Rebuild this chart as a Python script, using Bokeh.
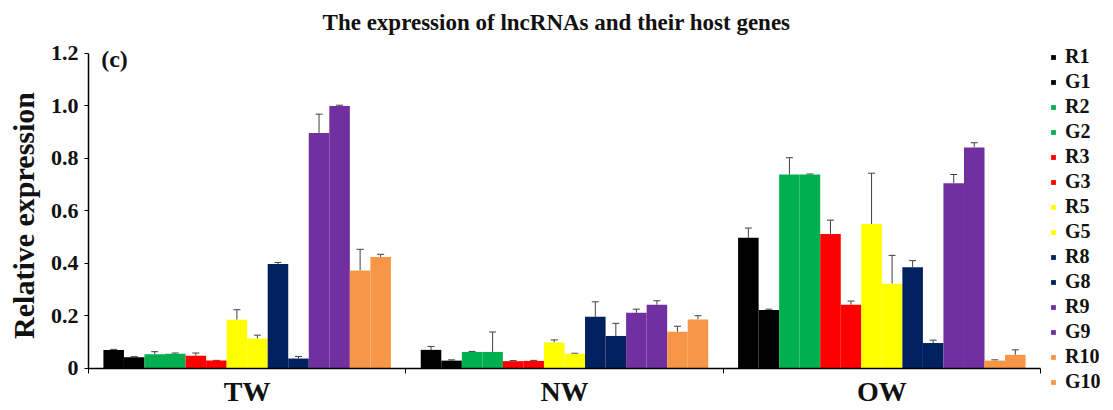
import math
from bokeh.plotting import figure
from bokeh.models import (ColumnDataSource, Whisker, TeeHead, FixedTicker, Range1d,
                          Legend, LegendItem, Label)
from bokeh.embed import file_html
from bokeh.resources import INLINE

groups = ["TW", "NW", "OW"]
series = ["R1", "G1", "R2", "G2", "R3", "G3", "R5", "G5", "R8", "G8", "R9", "G9", "R10", "G10"]
colors = ["#000000", "#000000", "#00B050", "#00B050", "#FF0000", "#FF0000",
          "#FFFF00", "#FFFF00", "#002060", "#002060", "#7030A0", "#7030A0",
          "#F79646", "#F79646"]

tw = [0.070, 0.043, 0.054, 0.056, 0.049, 0.030, 0.186, 0.114, 0.398, 0.038, 0.897, 1.000, 0.373, 0.425]
tw_err = [0.003, 0.002, 0.010, 0.003, 0.010, 0.001, 0.038, 0.013, 0.006, 0.008, 0.072, 0.003, 0.081, 0.010]
nw = [0.071, 0.030, 0.063, 0.063, 0.028, 0.029, 0.099, 0.056, 0.197, 0.124, 0.212, 0.243, 0.140, 0.187]
nw_err = [0.013, 0.003, 0.002, 0.076, 0.002, 0.002, 0.010, 0.002, 0.057, 0.048, 0.014, 0.015, 0.021, 0.014]
ow = [0.498, 0.223, 0.739, 0.739, 0.512, 0.243, 0.550, 0.323, 0.386, 0.097, 0.706, 0.842, 0.030, 0.052]
ow_err = [0.037, 0.003, 0.064, 0.002, 0.053, 0.014, 0.194, 0.108, 0.025, 0.011, 0.033, 0.018, 0.003, 0.019]

y_ticks = [0, 0.2, 0.4, 0.6, 0.8, 1.0, 1.2]
y_labels = ["0", "0.2", "0.4", "0.6", "0.8", "1.0", "1.2"]
title_text = "The expression of lncRNAs and their host genes"
panel_text = "(c)"
y_title = "Relative expression"

FONT = "Liberation Serif"

# frame fills the whole canvas; axes are pinned at the data origin and bounded
p = figure(width=1113, height=410, output_backend="svg", toolbar_location=None,
           x_range=Range1d(-0.27731, 3.23004), y_range=Range1d(-0.16, 1.4019),
           min_border_left=0, min_border_right=0, min_border_top=0, min_border_bottom=0)
p.outline_line_color = None
p.xgrid.visible = False
p.ygrid.visible = False
p.background_fill_color = "white"
p.border_fill_color = "white"

n = len(series)
pad = 0.047
w = (1 - 2 * pad) / n
vals = [tw, nw, ow]
errs = [tw_err, nw_err, ow_err]

items = []
for i, s in enumerate(series):
    xs = [g + pad + (i + 0.5) * w for g in range(len(groups))]
    tops = [vals[g][i] for g in range(len(groups))]
    ups = [vals[g][i] + errs[g][i] for g in range(len(groups))]
    src = ColumnDataSource(dict(x=xs, top=tops, upper=ups))
    r = p.vbar(x="x", top="top", width=w, bottom=0, source=src,
               fill_color=colors[i], line_color=None)
    wh = Whisker(source=src, base="x", upper="upper", lower="top",
                 line_color="#404040", line_width=1,
                 upper_head=TeeHead(size=7, line_color="#404040", line_width=1),
                 lower_head=None)
    p.add_layout(wh)
    items.append(LegendItem(label=s, renderers=[r]))

legend = Legend(items=items, location=(1050, 17), orientation="vertical",
                label_text_font=FONT, label_text_font_size="20px",
                label_text_font_style="bold", label_text_color="#111111",
                glyph_width=6, glyph_height=6, label_standoff=9,
                label_height=18, spacing=2, padding=2, margin=0,
                border_line_color=None, background_fill_alpha=0)
p.add_layout(legend)

# axes
xa = p.xaxis[0]
xa.fixed_location = 0
xa.bounds = (0, 3)
xa.ticker = FixedTicker(ticks=[0.5, 1.5, 2.5], minor_ticks=[0, 1, 2, 3])
xa.major_label_overrides = {0.5: groups[0], 1.5: groups[1], 2.5: groups[2]}
xa.major_tick_line_color = None
xa.minor_tick_line_color = "black"
xa.minor_tick_out = 5
xa.minor_tick_in = 0
xa.axis_line_color = "black"
xa.axis_line_width = 1.5
xa.major_label_text_font = FONT
xa.major_label_text_font_size = "28px"
xa.major_label_text_font_style = "bold"
xa.major_label_text_color = "#111111"
xa.major_label_standoff = 2

ya = p.yaxis[0]
ya.fixed_location = 0
ya.bounds = (0, 1.2)
ya.ticker = FixedTicker(ticks=y_ticks, minor_ticks=[])
ya.major_label_overrides = {t: l for t, l in zip(y_ticks, y_labels)}
ya.major_label_text_font = FONT
ya.major_label_text_font_size = "22px"
ya.major_label_text_font_style = "bold"
ya.major_label_text_color = "#111111"
ya.major_tick_out = 4
ya.major_tick_in = 0
ya.minor_tick_line_color = None
ya.axis_line_color = "black"
ya.axis_line_width = 1.5
ya.major_label_standoff = 6

# y-axis title, centred on the bounded axis (0..1.2)
p.add_layout(Label(x=-0.205, y=0.583, text=y_title, angle=math.pi / 2,
                   text_font=FONT, text_font_size="30px", text_font_style="bold",
                   text_color="#111111", text_align="center", text_baseline="middle"))

p.add_layout(Label(x=0.04, y=1.18, text=panel_text, text_font=FONT, text_font_size="24px",
                   text_font_style="bold", text_color="#111111", text_baseline="middle"))

p.add_layout(Label(x=1.4748, y=1.318, text=title_text,
                   text_font=FONT, text_font_size="23px", text_font_style="bold",
                   text_color="#111111", text_align="center", text_baseline="middle"))

open("out.html", "w").write(file_html(p, INLINE))
